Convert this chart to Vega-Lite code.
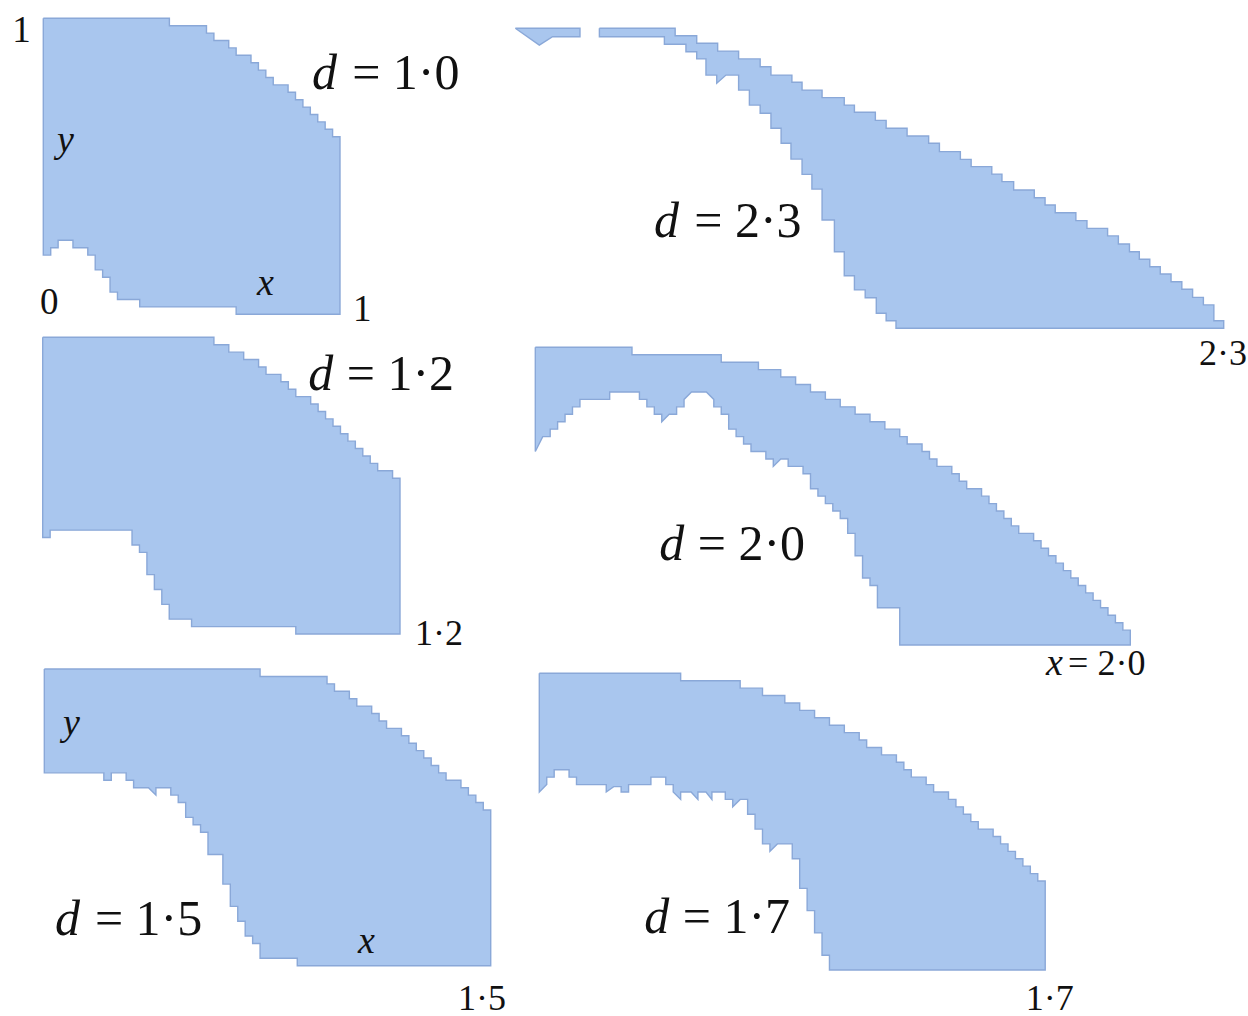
{
  "$schema": "https://vega.github.io/schema/vega-lite/v6.json",
  "background": "white",
  "padding": 0,
  "spacing": 0,
  "config": {
    "view": {"stroke": null},
    "text": {"font": "Liberation Serif", "align": "left", "baseline": "alphabetic", "color": "#111111"},
    "line": {"fill": "#a9c6ee", "stroke": "#8aa8d8", "strokeWidth": 1.4, "strokeJoin": "miter"}
  },
  "hconcat": [
    {
      "spacing": 0,
      "bounds": "flush",
      "vconcat": [
        {
          "width": 505, "height": 326,
          "encoding": {
            "x": {"field": "x", "type": "quantitative", "scale": {"domain": [-0.1459, 1.5561], "nice": false, "zero": false}, "axis": null},
            "y": {"field": "y", "type": "quantitative", "scale": {"domain": [-0.0395, 1.0618], "nice": false, "zero": false}, "axis": null}
          },
          "layer": [
            {
              "data": {"values": [
                {"x":0,"y":1},{"x":0.425,"y":1},{"x":0.425,"y":0.975},{"x":0.55,"y":0.975},{"x":0.55,"y":0.95},{"x":0.575,"y":0.95},{"x":0.575,"y":0.925},{"x":0.625,"y":0.925},{"x":0.625,"y":0.9},{"x":0.65,"y":0.9},{"x":0.65,"y":0.875},{"x":0.7,"y":0.875},{"x":0.7,"y":0.85},{"x":0.725,"y":0.85},{"x":0.725,"y":0.825},{"x":0.75,"y":0.825},{"x":0.75,"y":0.8},{"x":0.775,"y":0.8},{"x":0.775,"y":0.775},{"x":0.825,"y":0.775},{"x":0.825,"y":0.75},{"x":0.85,"y":0.75},{"x":0.85,"y":0.725},{"x":0.875,"y":0.725},{"x":0.875,"y":0.7},{"x":0.9,"y":0.7},{"x":0.9,"y":0.675},{"x":0.925,"y":0.675},{"x":0.925,"y":0.65},{"x":0.95,"y":0.65},{"x":0.95,"y":0.625},{"x":0.975,"y":0.625},{"x":0.975,"y":0.6},{"x":1,"y":0.6},{"x":1,"y":0},
                {"x":0.65,"y":0},{"x":0.65,"y":0.025},{"x":0.325,"y":0.025},{"x":0.325,"y":0.05},{"x":0.25,"y":0.05},{"x":0.25,"y":0.075},{"x":0.225,"y":0.075},{"x":0.225,"y":0.125},{"x":0.2,"y":0.125},{"x":0.2,"y":0.15},{"x":0.175,"y":0.15},{"x":0.175,"y":0.2},{"x":0.15,"y":0.2},{"x":0.15,"y":0.225},{"x":0.1,"y":0.225},{"x":0.1,"y":0.25},{"x":0.05,"y":0.25},{"x":0.05,"y":0.225},{"x":0.025,"y":0.225},{"x":0.025,"y":0.2},{"x":0,"y":0.2},{"x":0,"y":1}
              ]},
              "mark": {"type": "line"},
              "encoding": {"order": {"value": null}}
            },
            {"data": {"values": [{"x":0.906,"y":0.761,"t":"d"}]}, "mark": {"type": "text", "fontSize": 50, "fontStyle": "italic"}, "encoding": {"text": {"field": "t"}}},
            {"data": {"values": [{"x":1.041,"y":0.761,"t":"= 1·0"}]}, "mark": {"type": "text", "fontSize": 50}, "encoding": {"text": {"field": "t"}}},
            {"data": {"values": [{"x":0.046,"y":0.548,"t":"y"},{"x":0.72,"y":0.065,"t":"x"}]}, "mark": {"type": "text", "fontSize": 38, "fontStyle": "italic"}, "encoding": {"text": {"field": "t"}}},
            {"data": {"values": [{"x":-0.105,"y":0.921,"t":"1"},{"x":-0.011,"y":0.001,"t":"0"},{"x":1.044,"y":-0.0216,"t":"1"}]}, "mark": {"type": "text", "fontSize": 37}, "encoding": {"text": {"field": "t"}}}
          ]
        },
        {
          "width": 505, "height": 325,
          "encoding": {
            "x": {"field": "x", "type": "quantitative", "scale": {"domain": [-0.1434, 1.5526], "nice": false, "zero": false}, "axis": null},
            "y": {"field": "y", "type": "quantitative", "scale": {"domain": [-0.0573, 1.0381], "nice": false, "zero": false}, "axis": null}
          },
          "layer": [
            {
              "data": {"values": [
                {"x":0,"y":1},{"x":0.575,"y":1},{"x":0.575,"y":0.975},{"x":0.625,"y":0.975},{"x":0.625,"y":0.95},{"x":0.675,"y":0.95},{"x":0.675,"y":0.925},{"x":0.725,"y":0.925},{"x":0.725,"y":0.9},{"x":0.75,"y":0.9},{"x":0.75,"y":0.875},{"x":0.8,"y":0.875},{"x":0.8,"y":0.85},{"x":0.825,"y":0.85},{"x":0.825,"y":0.825},{"x":0.85,"y":0.825},{"x":0.85,"y":0.8},{"x":0.9,"y":0.8},{"x":0.9,"y":0.775},{"x":0.925,"y":0.775},{"x":0.925,"y":0.75},{"x":0.95,"y":0.75},{"x":0.95,"y":0.725},{"x":0.975,"y":0.725},{"x":0.975,"y":0.7},{"x":1,"y":0.7},{"x":1,"y":0.675},{"x":1.025,"y":0.675},{"x":1.025,"y":0.65},{"x":1.05,"y":0.65},{"x":1.05,"y":0.625},{"x":1.075,"y":0.625},{"x":1.075,"y":0.6},{"x":1.1,"y":0.6},{"x":1.1,"y":0.575},{"x":1.125,"y":0.575},{"x":1.125,"y":0.55},{"x":1.175,"y":0.55},{"x":1.175,"y":0.525},{"x":1.2,"y":0.525},{"x":1.2,"y":0},
                {"x":0.85,"y":0},{"x":0.85,"y":0.025},{"x":0.5,"y":0.025},{"x":0.5,"y":0.05},{"x":0.425,"y":0.05},{"x":0.425,"y":0.1},{"x":0.4,"y":0.1},{"x":0.4,"y":0.15},{"x":0.375,"y":0.15},{"x":0.375,"y":0.2},{"x":0.35,"y":0.2},{"x":0.35,"y":0.275},{"x":0.325,"y":0.275},{"x":0.325,"y":0.3},{"x":0.3,"y":0.3},{"x":0.3,"y":0.35},{"x":0.025,"y":0.35},{"x":0.025,"y":0.325},{"x":0,"y":0.325},{"x":0,"y":1}
              ]},
              "mark": {"type": "line"},
              "encoding": {"order": {"value": null}}
            },
            {"data": {"values": [{"x":0.892,"y":0.822,"t":"d"}]}, "mark": {"type": "text", "fontSize": 50, "fontStyle": "italic"}, "encoding": {"text": {"field": "t"}}},
            {"data": {"values": [{"x":1.021,"y":0.822,"t":"= 1·2"}]}, "mark": {"type": "text", "fontSize": 50}, "encoding": {"text": {"field": "t"}}},
            {"data": {"values": [{"x":1.25,"y":-0.037,"t":"1·2"}]}, "mark": {"type": "text", "fontSize": 36}, "encoding": {"text": {"field": "t"}}}
          ]
        },
        {
          "width": 505, "height": 365,
          "encoding": {
            "x": {"field": "x", "type": "quantitative", "scale": {"domain": [-0.1489, 1.548], "nice": false, "zero": false}, "axis": null},
            "y": {"field": "y", "type": "quantitative", "scale": {"domain": [-0.1695, 1.0607], "nice": false, "zero": false}, "axis": null}
          },
          "layer": [
            {
              "data": {"values": [
                {"x":0,"y":1},{"x":0.725,"y":1},{"x":0.725,"y":0.975},{"x":0.95,"y":0.975},{"x":0.95,"y":0.95},{"x":0.975,"y":0.95},{"x":0.975,"y":0.925},{"x":1.025,"y":0.925},{"x":1.025,"y":0.9},{"x":1.05,"y":0.9},{"x":1.05,"y":0.875},{"x":1.1,"y":0.875},{"x":1.1,"y":0.85},{"x":1.125,"y":0.85},{"x":1.125,"y":0.825},{"x":1.15,"y":0.825},{"x":1.15,"y":0.8},{"x":1.2,"y":0.8},{"x":1.2,"y":0.775},{"x":1.225,"y":0.775},{"x":1.225,"y":0.75},{"x":1.25,"y":0.75},{"x":1.25,"y":0.725},{"x":1.275,"y":0.725},{"x":1.275,"y":0.7},{"x":1.3,"y":0.7},{"x":1.3,"y":0.675},{"x":1.325,"y":0.675},{"x":1.325,"y":0.65},{"x":1.35,"y":0.65},{"x":1.35,"y":0.625},{"x":1.4,"y":0.625},{"x":1.4,"y":0.6},{"x":1.425,"y":0.6},{"x":1.425,"y":0.575},{"x":1.45,"y":0.575},{"x":1.45,"y":0.55},{"x":1.475,"y":0.55},{"x":1.475,"y":0.525},{"x":1.5,"y":0.525},{"x":1.5,"y":0},
                {"x":0.85,"y":0},{"x":0.85,"y":0.025},{"x":0.725,"y":0.025},{"x":0.725,"y":0.075},{"x":0.7,"y":0.075},{"x":0.7,"y":0.1},{"x":0.675,"y":0.1},{"x":0.675,"y":0.15},{"x":0.65,"y":0.15},{"x":0.65,"y":0.2},{"x":0.625,"y":0.2},{"x":0.625,"y":0.275},{"x":0.6,"y":0.275},{"x":0.6,"y":0.375},{"x":0.55,"y":0.375},{"x":0.55,"y":0.45},{"x":0.525,"y":0.45},{"x":0.525,"y":0.475},{"x":0.5,"y":0.475},{"x":0.5,"y":0.5},{"x":0.475,"y":0.5},{"x":0.475,"y":0.55},{"x":0.45,"y":0.55},{"x":0.45,"y":0.575},{"x":0.425,"y":0.575},{"x":0.425,"y":0.6},{"x":0.375,"y":0.6},{"x":0.375,"y":0.575},{"x":0.35,"y":0.6},{"x":0.3,"y":0.6},{"x":0.3,"y":0.625},{"x":0.275,"y":0.625},{"x":0.275,"y":0.65},{"x":0.225,"y":0.65},{"x":0.225,"y":0.625},{"x":0.2,"y":0.625},{"x":0.2,"y":0.65},{"x":0,"y":0.65},{"x":0,"y":1}
              ]},
              "mark": {"type": "line"},
              "encoding": {"order": {"value": null}}
            },
            {"data": {"values": [{"x":0.036,"y":0.1035,"t":"d"}]}, "mark": {"type": "text", "fontSize": 50, "fontStyle": "italic"}, "encoding": {"text": {"field": "t"}}},
            {"data": {"values": [{"x":0.17,"y":0.1035,"t":"= 1·5"}]}, "mark": {"type": "text", "fontSize": 50}, "encoding": {"text": {"field": "t"}}},
            {"data": {"values": [{"x":0.063,"y":0.778,"t":"y"},{"x":1.054,"y":0.042,"t":"x"}]}, "mark": {"type": "text", "fontSize": 38, "fontStyle": "italic"}, "encoding": {"text": {"field": "t"}}},
            {"data": {"values": [{"x":1.39,"y":-0.149,"t":"1·5"}]}, "mark": {"type": "text", "fontSize": 36}, "encoding": {"text": {"field": "t"}}}
          ]
        }
      ]
    },
    {
      "spacing": 0,
      "bounds": "flush",
      "vconcat": [
        {
          "width": 743, "height": 338,
          "encoding": {
            "x": {"field": "x", "type": "quantitative", "scale": {"domain": [-0.0302, 2.3821], "nice": false, "zero": false}, "axis": null},
            "y": {"field": "y", "type": "quantitative", "scale": {"domain": [-0.0323, 1.0943], "nice": false, "zero": false}, "axis": null}
          },
          "layer": [
            {
              "data": {"values": [
                {"p":"a","x":0,"y":1},{"p":"a","x":0.21,"y":1},{"p":"a","x":0.21,"y":0.972},{"p":"a","x":0.121,"y":0.972},{"p":"a","x":0.078,"y":0.944},{"p":"a","x":0,"y":1},
                {"p":"b","x":0.273,"y":1},{"p":"b","x":0.519,"y":1},{"p":"b","x":0.519,"y":0.975},{"p":"b","x":0.589,"y":0.975},{"p":"b","x":0.589,"y":0.95},{"p":"b","x":0.657,"y":0.95},{"p":"b","x":0.657,"y":0.924},{"p":"b","x":0.725,"y":0.924},{"p":"b","x":0.725,"y":0.898},{"p":"b","x":0.795,"y":0.898},{"p":"b","x":0.795,"y":0.872},{"p":"b","x":0.83,"y":0.872},{"p":"b","x":0.83,"y":0.844},{"p":"b","x":0.898,"y":0.844},{"p":"b","x":0.898,"y":0.82},{"p":"b","x":0.931,"y":0.82},{"p":"b","x":0.931,"y":0.794},{"p":"b","x":0.996,"y":0.794},{"p":"b","x":0.996,"y":0.769},{"p":"b","x":1.068,"y":0.769},{"p":"b","x":1.068,"y":0.744},{"p":"b","x":1.101,"y":0.744},{"p":"b","x":1.101,"y":0.72},{"p":"b","x":1.169,"y":0.72},{"p":"b","x":1.169,"y":0.693},{"p":"b","x":1.204,"y":0.693},{"p":"b","x":1.204,"y":0.667},{"p":"b","x":1.272,"y":0.667},{"p":"b","x":1.272,"y":0.641},{"p":"b","x":1.342,"y":0.641},{"p":"b","x":1.342,"y":0.617},{"p":"b","x":1.377,"y":0.617},{"p":"b","x":1.377,"y":0.589},{"p":"b","x":1.445,"y":0.589},{"p":"b","x":1.445,"y":0.563},{"p":"b","x":1.48,"y":0.563},{"p":"b","x":1.48,"y":0.539},{"p":"b","x":1.547,"y":0.539},{"p":"b","x":1.547,"y":0.514},{"p":"b","x":1.58,"y":0.514},{"p":"b","x":1.58,"y":0.489},{"p":"b","x":1.618,"y":0.489},{"p":"b","x":1.618,"y":0.461},{"p":"b","x":1.685,"y":0.461},{"p":"b","x":1.685,"y":0.435},{"p":"b","x":1.72,"y":0.435},{"p":"b","x":1.72,"y":0.411},{"p":"b","x":1.753,"y":0.411},{"p":"b","x":1.753,"y":0.385},{"p":"b","x":1.82,"y":0.385},{"p":"b","x":1.82,"y":0.359},{"p":"b","x":1.856,"y":0.359},{"p":"b","x":1.856,"y":0.333},{"p":"b","x":1.923,"y":0.333},{"p":"b","x":1.923,"y":0.308},{"p":"b","x":1.958,"y":0.308},{"p":"b","x":1.958,"y":0.281},{"p":"b","x":1.994,"y":0.281},{"p":"b","x":1.994,"y":0.255},{"p":"b","x":2.026,"y":0.255},{"p":"b","x":2.026,"y":0.23},{"p":"b","x":2.06,"y":0.23},{"p":"b","x":2.06,"y":0.205},{"p":"b","x":2.094,"y":0.205},{"p":"b","x":2.094,"y":0.181},{"p":"b","x":2.129,"y":0.181},{"p":"b","x":2.129,"y":0.155},{"p":"b","x":2.164,"y":0.155},{"p":"b","x":2.164,"y":0.13},{"p":"b","x":2.199,"y":0.13},{"p":"b","x":2.199,"y":0.103},{"p":"b","x":2.234,"y":0.103},{"p":"b","x":2.234,"y":0.078},{"p":"b","x":2.268,"y":0.078},{"p":"b","x":2.268,"y":0.025},{"p":"b","x":2.3,"y":0.025},{"p":"b","x":2.3,"y":0},
                {"p":"b","x":1.236,"y":0},{"p":"b","x":1.236,"y":0.025},{"p":"b","x":1.204,"y":0.025},{"p":"b","x":1.204,"y":0.05},{"p":"b","x":1.172,"y":0.05},{"p":"b","x":1.172,"y":0.102},{"p":"b","x":1.136,"y":0.102},{"p":"b","x":1.136,"y":0.128},{"p":"b","x":1.101,"y":0.128},{"p":"b","x":1.101,"y":0.175},{"p":"b","x":1.068,"y":0.175},{"p":"b","x":1.068,"y":0.255},{"p":"b","x":1.036,"y":0.255},{"p":"b","x":1.036,"y":0.361},{"p":"b","x":0.996,"y":0.361},{"p":"b","x":0.996,"y":0.464},{"p":"b","x":0.963,"y":0.464},{"p":"b","x":0.963,"y":0.513},{"p":"b","x":0.931,"y":0.513},{"p":"b","x":0.931,"y":0.564},{"p":"b","x":0.895,"y":0.564},{"p":"b","x":0.895,"y":0.617},{"p":"b","x":0.863,"y":0.617},{"p":"b","x":0.863,"y":0.667},{"p":"b","x":0.83,"y":0.667},{"p":"b","x":0.83,"y":0.717},{"p":"b","x":0.795,"y":0.717},{"p":"b","x":0.795,"y":0.744},{"p":"b","x":0.76,"y":0.744},{"p":"b","x":0.76,"y":0.794},{"p":"b","x":0.725,"y":0.794},{"p":"b","x":0.725,"y":0.844},{"p":"b","x":0.684,"y":0.844},{"p":"b","x":0.654,"y":0.817},{"p":"b","x":0.654,"y":0.844},{"p":"b","x":0.619,"y":0.844},{"p":"b","x":0.619,"y":0.898},{"p":"b","x":0.589,"y":0.898},{"p":"b","x":0.589,"y":0.922},{"p":"b","x":0.554,"y":0.922},{"p":"b","x":0.554,"y":0.947},{"p":"b","x":0.484,"y":0.947},{"p":"b","x":0.484,"y":0.972},{"p":"b","x":0.273,"y":0.972},{"p":"b","x":0.273,"y":1}
              ]},
              "mark": {"type": "line"},
              "encoding": {"order": {"value": null}, "detail": {"field": "p"}}
            },
            {"data": {"values": [{"x":0.45,"y":0.305,"t":"d"}]}, "mark": {"type": "text", "fontSize": 50, "fontStyle": "italic"}, "encoding": {"text": {"field": "t"}}},
            {"data": {"values": [{"x":0.581,"y":0.305,"t":"= 2·3"}]}, "mark": {"type": "text", "fontSize": 50}, "encoding": {"text": {"field": "t"}}},
            {"data": {"values": [{"x":2.3756,"y":-0.122,"t":"2·3"}]}, "mark": {"type": "text", "fontSize": 36, "align": "right"}, "encoding": {"text": {"field": "t"}}}
          ]
        },
        {
          "width": 743, "height": 323,
          "encoding": {
            "x": {"field": "x", "type": "quantitative", "scale": {"domain": [-0.0985, 2.399], "nice": false, "zero": false}, "axis": null},
            "y": {"field": "y", "type": "quantitative", "scale": {"domain": [-0.0537, 1.0312], "nice": false, "zero": false}, "axis": null}
          },
          "layer": [
            {
              "data": {"values": [
                {"x":0,"y":1},{"x":0.325,"y":1},{"x":0.325,"y":0.975},{"x":0.625,"y":0.975},{"x":0.625,"y":0.95},{"x":0.75,"y":0.95},{"x":0.75,"y":0.925},{"x":0.825,"y":0.925},{"x":0.825,"y":0.9},{"x":0.875,"y":0.9},{"x":0.875,"y":0.875},{"x":0.925,"y":0.875},{"x":0.925,"y":0.85},{"x":0.975,"y":0.85},{"x":0.975,"y":0.825},{"x":1.025,"y":0.825},{"x":1.025,"y":0.8},{"x":1.075,"y":0.8},{"x":1.075,"y":0.775},{"x":1.125,"y":0.775},{"x":1.125,"y":0.75},{"x":1.175,"y":0.75},{"x":1.175,"y":0.725},{"x":1.225,"y":0.725},{"x":1.225,"y":0.7},{"x":1.25,"y":0.7},{"x":1.25,"y":0.675},{"x":1.3,"y":0.675},{"x":1.3,"y":0.65},{"x":1.325,"y":0.65},{"x":1.325,"y":0.625},{"x":1.35,"y":0.625},{"x":1.35,"y":0.6},{"x":1.4,"y":0.6},{"x":1.4,"y":0.575},{"x":1.425,"y":0.575},{"x":1.425,"y":0.55},{"x":1.45,"y":0.55},{"x":1.45,"y":0.525},{"x":1.5,"y":0.525},{"x":1.5,"y":0.5},{"x":1.525,"y":0.5},{"x":1.525,"y":0.475},{"x":1.55,"y":0.475},{"x":1.55,"y":0.45},{"x":1.575,"y":0.45},{"x":1.575,"y":0.425},{"x":1.6,"y":0.425},{"x":1.6,"y":0.4},{"x":1.625,"y":0.4},{"x":1.625,"y":0.375},{"x":1.675,"y":0.375},{"x":1.675,"y":0.35},{"x":1.7,"y":0.35},{"x":1.7,"y":0.325},{"x":1.725,"y":0.325},{"x":1.725,"y":0.3},{"x":1.75,"y":0.3},{"x":1.75,"y":0.275},{"x":1.775,"y":0.275},{"x":1.775,"y":0.25},{"x":1.8,"y":0.25},{"x":1.8,"y":0.225},{"x":1.825,"y":0.225},{"x":1.825,"y":0.2},{"x":1.85,"y":0.2},{"x":1.85,"y":0.175},{"x":1.875,"y":0.175},{"x":1.875,"y":0.15},{"x":1.9,"y":0.15},{"x":1.9,"y":0.125},{"x":1.925,"y":0.125},{"x":1.925,"y":0.1},{"x":1.95,"y":0.1},{"x":1.95,"y":0.075},{"x":1.975,"y":0.075},{"x":1.975,"y":0.05},{"x":2,"y":0.05},{"x":2,"y":0},
                {"x":1.225,"y":0},{"x":1.225,"y":0.125},{"x":1.15,"y":0.125},{"x":1.15,"y":0.2},{"x":1.125,"y":0.2},{"x":1.125,"y":0.225},{"x":1.1,"y":0.225},{"x":1.1,"y":0.3},{"x":1.075,"y":0.3},{"x":1.075,"y":0.375},{"x":1.05,"y":0.375},{"x":1.05,"y":0.425},{"x":1.025,"y":0.425},{"x":1.025,"y":0.45},{"x":1,"y":0.45},{"x":1,"y":0.475},{"x":0.975,"y":0.475},{"x":0.975,"y":0.5},{"x":0.95,"y":0.5},{"x":0.95,"y":0.525},{"x":0.925,"y":0.525},{"x":0.925,"y":0.575},{"x":0.9,"y":0.575},{"x":0.9,"y":0.6},{"x":0.85,"y":0.6},{"x":0.85,"y":0.625},{"x":0.825,"y":0.625},{"x":0.8,"y":0.6},{"x":0.8,"y":0.625},{"x":0.775,"y":0.625},{"x":0.775,"y":0.65},{"x":0.725,"y":0.65},{"x":0.725,"y":0.675},{"x":0.7,"y":0.675},{"x":0.7,"y":0.7},{"x":0.675,"y":0.7},{"x":0.675,"y":0.725},{"x":0.65,"y":0.725},{"x":0.65,"y":0.775},{"x":0.625,"y":0.775},{"x":0.625,"y":0.8},{"x":0.6,"y":0.8},{"x":0.6,"y":0.825},{"x":0.575,"y":0.85},{"x":0.525,"y":0.85},{"x":0.5,"y":0.825},{"x":0.5,"y":0.8},{"x":0.475,"y":0.8},{"x":0.475,"y":0.775},{"x":0.45,"y":0.775},{"x":0.425,"y":0.75},{"x":0.425,"y":0.775},{"x":0.4,"y":0.775},{"x":0.4,"y":0.8},{"x":0.375,"y":0.8},{"x":0.375,"y":0.825},{"x":0.35,"y":0.825},{"x":0.35,"y":0.85},{"x":0.25,"y":0.85},{"x":0.25,"y":0.825},{"x":0.15,"y":0.825},{"x":0.15,"y":0.8},{"x":0.125,"y":0.8},{"x":0.125,"y":0.775},{"x":0.1,"y":0.775},{"x":0.1,"y":0.75},{"x":0.075,"y":0.75},{"x":0.075,"y":0.725},{"x":0.05,"y":0.725},{"x":0.05,"y":0.7},{"x":0.025,"y":0.7},{"x":0,"y":0.65},{"x":0,"y":1}
              ]},
              "mark": {"type": "line"},
              "encoding": {"order": {"value": null}}
            },
            {"data": {"values": [{"x":0.417,"y":0.2855,"t":"d"}]}, "mark": {"type": "text", "fontSize": 50, "fontStyle": "italic"}, "encoding": {"text": {"field": "t"}}},
            {"data": {"values": [{"x":0.546,"y":0.2855,"t":"= 2·0"}]}, "mark": {"type": "text", "fontSize": 50}, "encoding": {"text": {"field": "t"}}},
            {"data": {"values": [{"x":1.717,"y":-0.101,"t":"x"}]}, "mark": {"type": "text", "fontSize": 38, "fontStyle": "italic"}, "encoding": {"text": {"field": "t"}}},
            {"data": {"values": [{"x":1.791,"y":-0.101,"t":"= 2·0"}]}, "mark": {"type": "text", "fontSize": 36}, "encoding": {"text": {"field": "t"}}}
          ]
        },
        {
          "width": 743, "height": 355,
          "encoding": {
            "x": {"field": "x", "type": "quantitative", "scale": {"domain": [-0.1119, 2.3848], "nice": false, "zero": false}, "axis": null},
            "y": {"field": "y", "type": "quantitative", "scale": {"domain": [-0.155, 1.0415], "nice": false, "zero": false}, "axis": null}
          },
          "layer": [
            {
              "data": {"values": [
                {"x":0,"y":1},{"x":0.475,"y":1},{"x":0.475,"y":0.975},{"x":0.675,"y":0.975},{"x":0.675,"y":0.95},{"x":0.75,"y":0.95},{"x":0.75,"y":0.925},{"x":0.825,"y":0.925},{"x":0.825,"y":0.9},{"x":0.875,"y":0.9},{"x":0.875,"y":0.875},{"x":0.925,"y":0.875},{"x":0.925,"y":0.85},{"x":0.975,"y":0.85},{"x":0.975,"y":0.825},{"x":1.025,"y":0.825},{"x":1.025,"y":0.8},{"x":1.075,"y":0.8},{"x":1.075,"y":0.775},{"x":1.1,"y":0.775},{"x":1.1,"y":0.75},{"x":1.15,"y":0.75},{"x":1.15,"y":0.725},{"x":1.2,"y":0.725},{"x":1.2,"y":0.7},{"x":1.225,"y":0.7},{"x":1.225,"y":0.675},{"x":1.25,"y":0.675},{"x":1.25,"y":0.65},{"x":1.3,"y":0.65},{"x":1.3,"y":0.625},{"x":1.325,"y":0.625},{"x":1.325,"y":0.6},{"x":1.375,"y":0.6},{"x":1.375,"y":0.575},{"x":1.4,"y":0.575},{"x":1.4,"y":0.55},{"x":1.425,"y":0.55},{"x":1.425,"y":0.525},{"x":1.45,"y":0.525},{"x":1.45,"y":0.5},{"x":1.475,"y":0.5},{"x":1.475,"y":0.475},{"x":1.525,"y":0.475},{"x":1.525,"y":0.45},{"x":1.55,"y":0.45},{"x":1.55,"y":0.425},{"x":1.575,"y":0.425},{"x":1.575,"y":0.4},{"x":1.6,"y":0.4},{"x":1.6,"y":0.375},{"x":1.625,"y":0.375},{"x":1.625,"y":0.35},{"x":1.65,"y":0.35},{"x":1.65,"y":0.325},{"x":1.675,"y":0.325},{"x":1.675,"y":0.3},{"x":1.7,"y":0.3},{"x":1.7,"y":0},
                {"x":0.975,"y":0},{"x":0.975,"y":0.05},{"x":0.95,"y":0.05},{"x":0.95,"y":0.125},{"x":0.925,"y":0.125},{"x":0.925,"y":0.2},{"x":0.9,"y":0.2},{"x":0.9,"y":0.275},{"x":0.875,"y":0.275},{"x":0.875,"y":0.375},{"x":0.85,"y":0.375},{"x":0.85,"y":0.425},{"x":0.8,"y":0.425},{"x":0.775,"y":0.4},{"x":0.775,"y":0.425},{"x":0.75,"y":0.425},{"x":0.75,"y":0.475},{"x":0.725,"y":0.475},{"x":0.725,"y":0.525},{"x":0.7,"y":0.525},{"x":0.7,"y":0.575},{"x":0.675,"y":0.575},{"x":0.65,"y":0.55},{"x":0.65,"y":0.575},{"x":0.625,"y":0.575},{"x":0.625,"y":0.6},{"x":0.58,"y":0.6},{"x":0.58,"y":0.575},{"x":0.56,"y":0.6},{"x":0.533,"y":0.6},{"x":0.533,"y":0.575},{"x":0.51,"y":0.6},{"x":0.475,"y":0.6},{"x":0.475,"y":0.575},{"x":0.45,"y":0.6},{"x":0.45,"y":0.625},{"x":0.425,"y":0.625},{"x":0.425,"y":0.65},{"x":0.375,"y":0.65},{"x":0.375,"y":0.625},{"x":0.3,"y":0.625},{"x":0.3,"y":0.6},{"x":0.275,"y":0.6},{"x":0.275,"y":0.618},{"x":0.25,"y":0.618},{"x":0.225,"y":0.6},{"x":0.225,"y":0.625},{"x":0.125,"y":0.625},{"x":0.125,"y":0.65},{"x":0.1,"y":0.65},{"x":0.1,"y":0.675},{"x":0.05,"y":0.675},{"x":0.05,"y":0.65},{"x":0.025,"y":0.65},{"x":0.025,"y":0.625},{"x":0,"y":0.6},{"x":0,"y":1}
              ]},
              "mark": {"type": "line"},
              "encoding": {"order": {"value": null}}
            },
            {"data": {"values": [{"x":0.353,"y":0.124,"t":"d"}]}, "mark": {"type": "text", "fontSize": 50, "fontStyle": "italic"}, "encoding": {"text": {"field": "t"}}},
            {"data": {"values": [{"x":0.482,"y":0.124,"t":"= 1·7"}]}, "mark": {"type": "text", "fontSize": 50}, "encoding": {"text": {"field": "t"}}},
            {"data": {"values": [{"x":1.635,"y":-0.135,"t":"1·7"}]}, "mark": {"type": "text", "fontSize": 36}, "encoding": {"text": {"field": "t"}}}
          ]
        }
      ]
    }
  ]
}
